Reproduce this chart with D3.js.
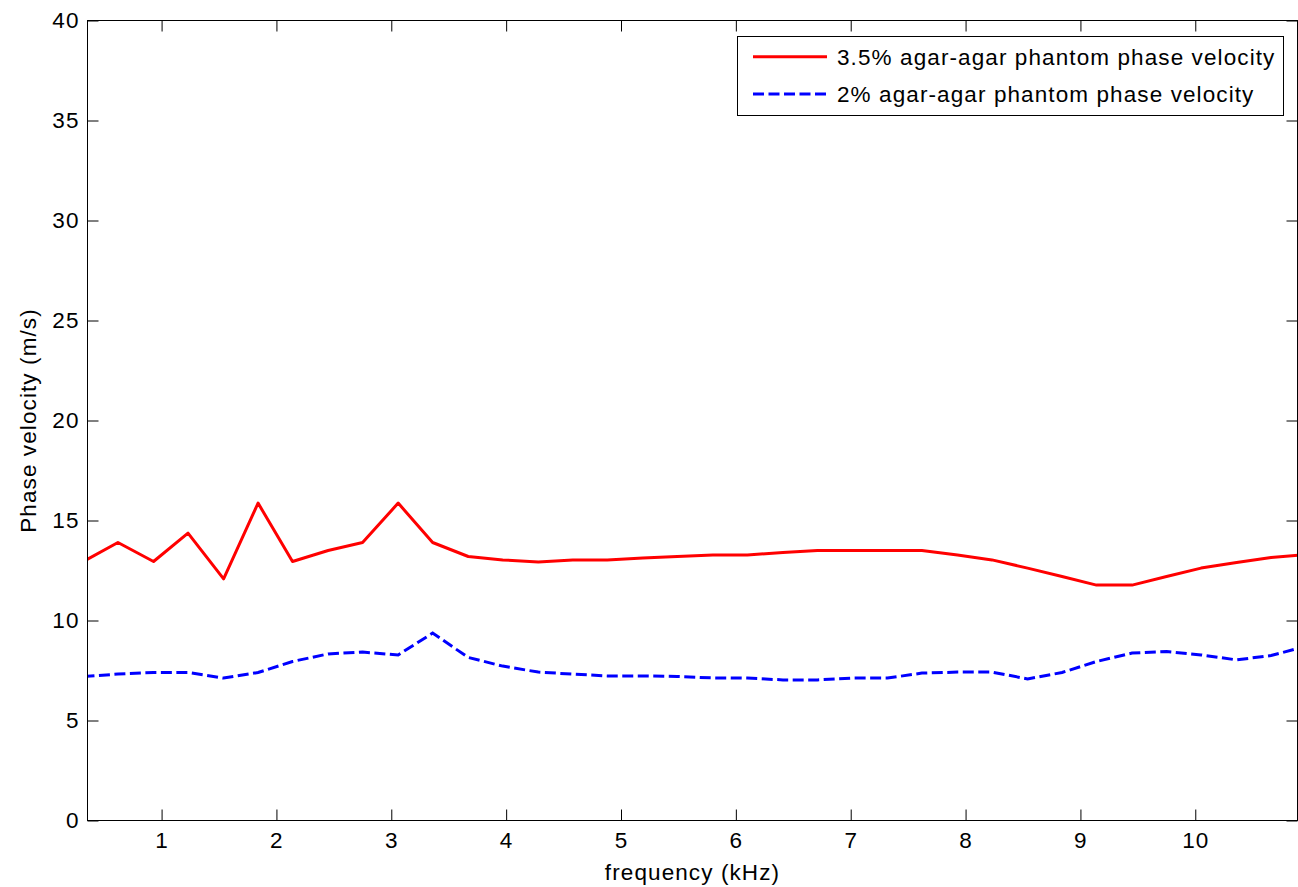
<!DOCTYPE html>
<html>
<head>
<meta charset="utf-8">
<script src="https://cdn.jsdelivr.net/npm/d3@7"></script>
<style>
  html, body { margin: 0; padding: 0; background: #fff; }
  svg { display: block; }
  text { font-family: "Liberation Sans", Arial, Helvetica, sans-serif; fill: #000; }
</style>
</head>
<body>
<svg id="chart" width="1298" height="887"></svg>
<script>
// ---- data ----
const frequency = [0.32, 0.62, 0.93, 1.23, 1.54, 1.84, 2.14, 2.45, 2.75, 3.06, 3.36, 3.67,
  3.97, 4.28, 4.58, 4.88, 5.19, 5.49, 5.80, 6.10, 6.41, 6.71, 7.01, 7.32,
  7.62, 7.93, 8.23, 8.54, 8.84, 9.14, 9.45, 9.75, 10.05, 10.36, 10.66, 10.97];
const velocity35 = [12.95, 13.9, 12.95, 14.37, 12.08, 15.87, 12.95, 13.5, 13.9, 15.87, 13.9, 13.2,
  13.03, 12.93, 13.02, 13.02, 13.12, 13.2, 13.28, 13.28, 13.4, 13.5, 13.5, 13.5,
  13.5, 13.28, 13.03, 12.62, 12.2, 11.77, 11.77, 12.2, 12.62, 12.9, 13.15, 13.3];
const velocity2 = [7.2, 7.32, 7.4, 7.4, 7.12, 7.4, 7.95, 8.33, 8.42, 8.28, 9.37, 8.15,
  7.72, 7.42, 7.32, 7.23, 7.23, 7.2, 7.13, 7.12, 7.03, 7.03, 7.12, 7.12,
  7.37, 7.42, 7.42, 7.08, 7.4, 7.95, 8.37, 8.45, 8.28, 8.03, 8.25, 8.72];
const xTicks = [1, 2, 3, 4, 5, 6, 7, 8, 9, 10];
const yTicks = [0, 5, 10, 15, 20, 25, 30, 35, 40];
const seriesNames = ["3.5% agar-agar phantom phase velocity", "2% agar-agar phantom phase velocity"];
const xLabel = "frequency (kHz)";
const yLabel = "Phase velocity (m/s)";

// ---- layout ----
const L = 87.5, R = 1297.5, T = 20.5, B = 820.5;
const FONT = 22.5, LS = "1.1px";

const svg = d3.select("#chart");
svg.append("rect").attr("width", 1298).attr("height", 887).attr("fill", "#fff");

const x = d3.scaleLinear().domain([0.355, 10.89]).range([L, R]);
const y = d3.scaleLinear().domain([0, 40]).range([B, T]);

svg.append("defs").append("clipPath").attr("id", "plotclip")
  .append("rect").attr("x", L).attr("y", T).attr("width", R - L).attr("height", B - T);

// axes
function styleAxis(g) {
  g.select(".domain").remove();
  g.selectAll(".tick line").attr("stroke", "#000").attr("stroke-width", 1);
  g.selectAll(".tick text").style("font-size", FONT + "px").style("letter-spacing", LS).attr("fill", "#000");
}
svg.append("g").attr("transform", `translate(0,${B})`)
  .call(d3.axisBottom(x).tickValues(xTicks).tickFormat(d3.format("d")).tickSizeInner(-11).tickSizeOuter(0).tickPadding(12))
  .call(styleAxis);
svg.append("g").attr("transform", `translate(0,${T})`)
  .call(d3.axisTop(x).tickValues(xTicks).tickFormat("").tickSizeInner(-11).tickSizeOuter(0))
  .call(styleAxis);
svg.append("g").attr("transform", `translate(${L},0)`)
  .call(d3.axisLeft(y).tickValues(yTicks).tickFormat(d3.format("d")).tickSizeInner(-11).tickSizeOuter(0).tickPadding(8))
  .call(styleAxis);
svg.append("g").attr("transform", `translate(${R},0)`)
  .call(d3.axisRight(y).tickValues(yTicks).tickFormat("").tickSizeInner(-11).tickSizeOuter(0))
  .call(styleAxis);

// lines
const plot = svg.append("g").attr("clip-path", "url(#plotclip)");
const line = vals => d3.line().x((d, i) => x(frequency[i])).y(d => y(d))(vals);
plot.append("path").attr("d", line(velocity35)).attr("fill", "none")
  .attr("stroke", "#ff0000").attr("stroke-width", 3).attr("stroke-linejoin", "round");
plot.append("path").attr("d", line(velocity2)).attr("fill", "none")
  .attr("stroke", "#0000ff").attr("stroke-width", 3).attr("stroke-dasharray", "11,4.5");

// box
svg.append("rect").attr("x", L).attr("y", T).attr("width", R - L).attr("height", B - T)
  .attr("fill", "none").attr("stroke", "#000").attr("stroke-width", 1);

// axis labels
svg.append("text").attr("x", (L + R) / 2).attr("y", 880).attr("text-anchor", "middle")
  .style("font-size", FONT + "px").style("letter-spacing", LS).text(xLabel);
svg.append("text").attr("transform", `translate(36,${(T + B) / 2}) rotate(-90)`)
  .attr("text-anchor", "middle").style("font-size", FONT + "px").style("letter-spacing", LS).text(yLabel);

// legend
const leg = svg.append("g");
leg.append("rect").attr("x", 737.5).attr("y", 36.5).attr("width", 546).attr("height", 79)
  .attr("fill", "#fff").attr("stroke", "#000").attr("stroke-width", 1);
const legY = [56.7, 94];
const legStyles = [{c: "#ff0000", dash: null}, {c: "#0000ff", dash: "11,4.5"}];
seriesNames.forEach((name, i) => {
  leg.append("line").attr("x1", 753).attr("x2", 827).attr("y1", legY[i]).attr("y2", legY[i])
    .attr("stroke", legStyles[i].c).attr("stroke-width", 3).attr("stroke-dasharray", legStyles[i].dash);
  leg.append("text").attr("x", 837).attr("y", legY[i]).attr("dy", "0.36em")
    .style("font-size", FONT + "px").style("letter-spacing", LS).text(name);
});
</script>
</body>
</html>
